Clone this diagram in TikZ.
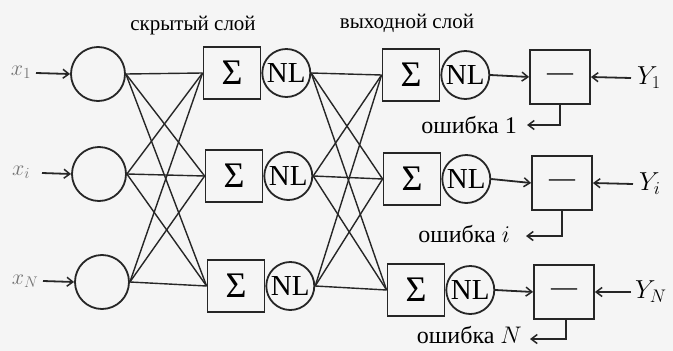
\RequirePackage{fix-cm}
\documentclass[tikz,border=0pt]{standalone}
\usepackage{fontspec}
\setmainfont{Liberation Serif}
\usetikzlibrary{arrows.meta}
\tikzset{
  ln/.style={draw=black!85, line width=1.8pt},
  incirc/.style={ln, circle, minimum size=54pt, inner sep=0pt},
  sumbox/.style={ln, rectangle, minimum width=57pt, minimum height=52pt, inner sep=0pt, font=\fontsize{36}{36}\selectfont},
  nlcirc/.style={ln, circle, minimum size=48pt, inner sep=0pt, font=\fontsize{29}{29}\selectfont},
  minbox/.style={ln, rectangle, minimum width=60pt, minimum height=54pt, inner sep=0pt, font=\fontsize{26}{26}\selectfont},
  lbl/.style={font=\fontsize{21}{21}\selectfont, inner sep=0pt},
  elbl/.style={lbl, anchor=east, font=\fontsize{24}{24}\selectfont},
  ylbl/.style={lbl, anchor=west, font=\fontsize{26}{26}\selectfont},
  xlbl/.style={lbl, text=black!55, font=\fontsize{22}{22}\selectfont},
  arr/.style={ln, -{Straight Barb[length=6pt,width=9pt,line width=1.5pt]}},
  wire/.style={draw=black!85, line width=1.4pt}
}
\begin{document}
\begin{tikzpicture}[x=1pt,y=-1pt]
\fill[black!4] (0,0) rectangle (673,351);
\useasboundingbox (0,0) rectangle (673,351);
% titles
\node[lbl] (t1) at (193,26) {скрытый слой};
\node[lbl] (t2) at (407,23) {выходной слой};
% inputs
\node[incirc] (in1) at (98,74) {};
\node[incirc] (in2) at (99,174) {};
\node[incirc] (in3) at (102,282) {};
\node[xlbl] (x1) at (21,72) {$x_1$};
\node[xlbl] (x2) at (21,172) {$x_i$};
\node[xlbl] (x3) at (25,281) {$x_N$};
\coordinate (x1a) at (36,73);
\coordinate (x2a) at (42,173);
\coordinate (x3a) at (43,281);
\draw[arr] (x1a) -- (in1.west);
\draw[arr] (x2a) -- (in2.west);
\draw[arr] (x3a) -- (in3.west);
% hidden layer
\node[sumbox] (h1) at (232,73) {Σ};
\node[sumbox] (h2) at (234,176) {Σ};
\node[sumbox] (h3) at (236,286) {Σ};
\node[nlcirc, anchor=west] (n1) at (h1.east) {NL};
\node[nlcirc, anchor=west] (n2) at (h2.east) {NL};
\node[nlcirc, anchor=west] (n3) at (h3.east) {NL};
% output layer
\node[sumbox] (o1) at (411,75) {Σ};
\node[sumbox] (o2) at (412,179) {Σ};
\node[sumbox] (o3) at (416,290) {Σ};
\node[nlcirc, anchor=west] (p1) at (o1.east) {NL};
\node[nlcirc, anchor=west] (p2) at (o2.east) {NL};
\node[nlcirc, anchor=west] (p3) at (o3.east) {NL};
% connections
\foreach \a in {1,2,3}{
  \foreach \b in {1,2,3}{
    \draw[wire] (in\a.east) -- (h\b.west);
    \draw[wire] (n\a.east) -- (o\b.west);
  }
}
% comparators
\node[minbox] (m1) at (560,77) {—};
\node[minbox] (m2) at (562,183) {—};
\node[minbox] (m3) at (564,292) {—};
\draw[arr] (p1.east) -- (m1.west);
\draw[arr] (p2.east) -- (m2.west);
\draw[arr] (p3.east) -- (m3.west);
% targets
\node[ylbl] (y1) at (637,78) {$Y_1$};
\node[ylbl] (y2) at (639,184) {$Y_i$};
\node[ylbl] (y3) at (635,292) {$Y_N$};
\draw[arr] ([xshift=-6pt]y1.west) -- (m1.east);
\draw[arr] ([xshift=-6pt]y2.west) -- (m2.east);
\draw[arr] ([xshift=-4pt]y3.west) -- (m3.east);
% errors
\node[elbl] (e1) at (517,125) {ошибка 1};
\node[elbl] (e2) at (510,234) {ошибка $i$};
\node[elbl] (e3) at (522,335) {ошибка $N$};
\coordinate (c1) at (560,125);
\coordinate (c2) at (562,236);
\coordinate (c3) at (566,339);
\draw[arr] (m1.south) -- (c1) -- ([xshift=10pt]e1.east |- c1);
\draw[arr] (m2.south) -- (c2) -- ([xshift=16pt]e2.east |- c2);
\draw[arr] ([xshift=2pt]m3.south) -- (c3) -- ([xshift=8pt]e3.east |- c3);
\end{tikzpicture}
\end{document}
